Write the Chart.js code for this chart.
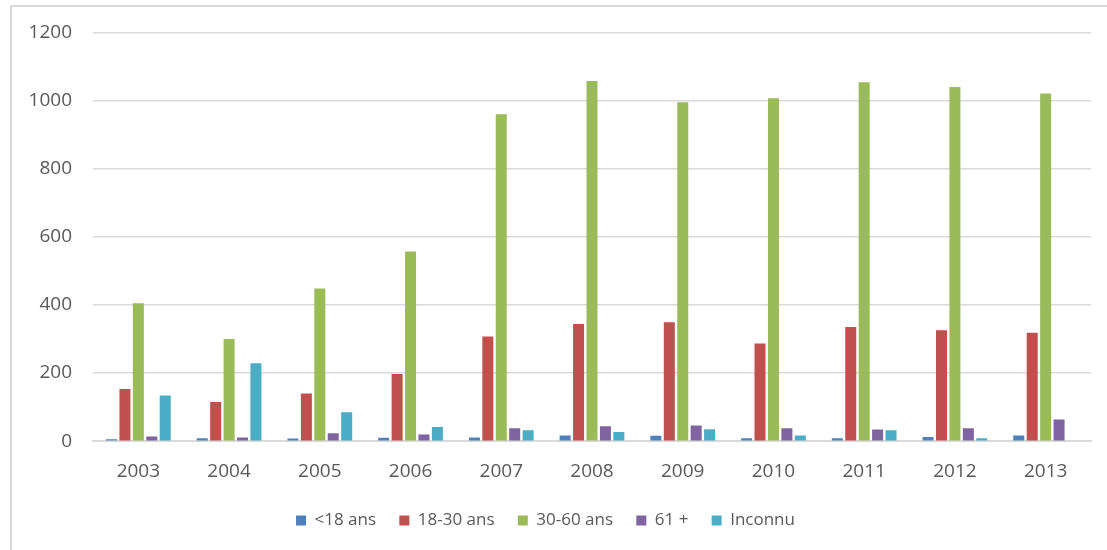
<!DOCTYPE html>
<html>
<head>
<meta charset="utf-8">
<script src="https://cdn.jsdelivr.net/npm/chart.js@4"></script>
<style>
  html, body { margin: 0; padding: 0; background: #fff; }
  #wrap { position: relative; width: 1107px; height: 550px; overflow: hidden; }
  #frame {
    position: absolute; left: 10px; top: 5px; width: 1120px; height: 580px;
    border: 2px solid #d9d9d9; box-sizing: border-box;
  }
  #chart { position: absolute; left: 0; top: 0; }
</style>
</head>
<body>
<div id="wrap">
  <div id="frame"></div>
  <canvas id="chart" width="1107" height="550"></canvas>
</div>
<script>
// data
const years = ["2003", "2004", "2005", "2006", "2007", "2008", "2009", "2010", "2011", "2012", "2013"];
const under18 = [6, 9, 8, 10, 11, 17, 16, 9, 9, 12, 17];
const age18to30 = [153, 115, 140, 197, 307, 344, 349, 287, 335, 326, 318];
const age30to60 = [405, 300, 448, 557, 960, 1057, 995, 1007, 1054, 1040, 1021];
const age61plus = [14, 11, 23, 20, 38, 44, 46, 38, 34, 38, 64];
const unknown = [134, 229, 85, 42, 32, 27, 35, 17, 32, 9, 0];
const yTicks = [0, 200, 400, 600, 800, 1000, 1200];

const seriesNames = ["<18 ans", "18-30 ans", "30-60 ans", "61 +", "Inconnu"];
const seriesValues = [under18, age18to30, age30to60, age61plus, unknown];
const seriesColors = ["#4F81BD", "#C0504D", "#9BBB59", "#8064A2", "#4BACC6"];

const fontFamily = "'Open Sans', 'Liberation Sans', sans-serif";
const textColor = "#595959";

const ctx = document.getElementById("chart");

new Chart(ctx, {
  type: "bar",
  data: {
    labels: years,
    datasets: seriesNames.map((name, i) => ({
      label: name,
      data: seriesValues[i],
      backgroundColor: seriesColors[i],
      borderWidth: 0,
      categoryPercentage: 0.74,
      barPercentage: 0.82,
    })),
  },
  options: {
    responsive: false,
    animation: false,
    layout: { padding: { top: 26, right: 16, bottom: 11, left: 0 } },
    plugins: {
      tooltip: { enabled: false },
      legend: {
        position: "bottom",
        labels: {
          boxWidth: 10,
          boxHeight: 10,
          padding: 10,
          color: textColor,
          font: { family: fontFamily, size: 17 },
          // a little extra room after each entry (not the last), like the original
          generateLabels: (chart) => {
            const items = Chart.defaults.plugins.legend.labels.generateLabels(chart);
            return items.map((item, i) =>
              i < items.length - 1 ? { ...item, text: item.text + "   " } : item
            );
          },
        },
      },
    },
    scales: {
      x: {
        grid: { display: false, drawTicks: false },
        border: { color: "#d9d9d9", width: 2 },
        ticks: {
          color: textColor,
          padding: 19,
          font: { family: fontFamily, size: 19 },
        },
      },
      y: {
        min: 0,
        max: 1200,
        afterFit: (scale) => {
          scale.width = 93;
        },
        afterBuildTicks: (scale) => {
          scale.ticks = yTicks.map((v) => ({ value: v }));
        },
        grid: { color: "#d9d9d9", lineWidth: 1.5, drawTicks: false },
        border: { display: false },
        ticks: {
          color: textColor,
          padding: 21,
          font: { family: fontFamily, size: 19 },
          callback: (value) => String(value),
        },
      },
    },
  },
});
</script>
</body>
</html>
